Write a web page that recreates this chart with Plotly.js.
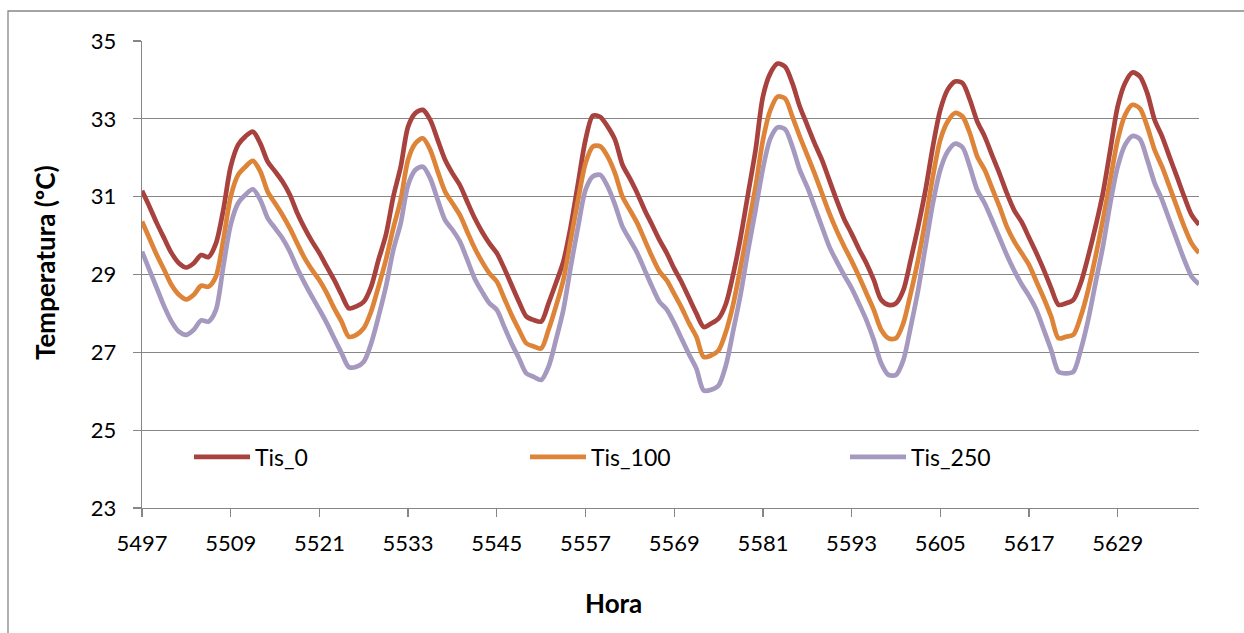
<!DOCTYPE html>
<html>
<head>
<meta charset="utf-8">
<script src="https://cdn.plot.ly/plotly-3.0.1.min.js"></script>
<style>html,body{margin:0;padding:0;background:#fff;}#chart{width:1244px;height:633px;}</style>
</head>
<body>
<div id="chart"></div>
<script>
// Hours (categories) 5497 .. 5640
const startHour = 5497;
const seriesNames = ["Tis_0", "Tis_100", "Tis_250"];
const xTickLabels = [5497, 5509, 5521, 5533, 5545, 5557, 5569, 5581, 5593, 5605, 5617, 5629];
const yTickLabels = [23, 25, 27, 29, 31, 33, 35];

const tis0 = [
31.15,30.75,30.32,29.93,29.55,29.29,29.18,29.29,29.50,29.45,29.80,30.66,31.77,32.33,32.55,32.67,32.37,31.90,31.65,31.39,31.05,30.58,30.19,29.85,
29.55,29.20,28.86,28.48,28.13,28.18,28.30,28.69,29.38,30.02,31.00,31.77,32.80,33.15,33.23,32.97,32.46,31.95,31.60,31.30,30.87,30.45,30.10,29.80,
29.55,29.16,28.73,28.30,27.92,27.83,27.79,28.26,28.78,29.33,30.23,31.35,32.46,33.08,33.05,32.80,32.46,31.82,31.47,31.09,30.66,30.28,29.89,29.55,
29.15,28.80,28.40,28.00,27.65,27.74,27.87,28.25,29.02,29.97,31.08,32.19,33.57,34.17,34.42,34.34,33.91,33.31,32.84,32.37,31.94,31.42,30.90,30.42,
30.05,29.65,29.29,28.86,28.35,28.22,28.26,28.60,29.38,30.23,31.17,32.29,33.23,33.75,33.96,33.92,33.49,32.93,32.55,32.07,31.60,31.09,30.65,30.35,
29.95,29.55,29.12,28.65,28.22,28.26,28.35,28.78,29.46,30.23,31.09,32.20,33.32,33.92,34.19,34.09,33.66,32.97,32.55,32.03,31.52,31.00,30.53,30.28
];
const tis100 = [
30.36,29.93,29.50,29.12,28.73,28.48,28.36,28.48,28.71,28.69,28.95,29.89,31.00,31.56,31.77,31.92,31.65,31.13,30.83,30.53,30.19,29.80,29.42,29.12,
28.85,28.52,28.13,27.79,27.40,27.45,27.62,28.05,28.69,29.38,30.19,30.92,31.95,32.37,32.50,32.20,31.65,31.13,30.83,30.53,30.10,29.68,29.33,29.03,
28.82,28.39,27.96,27.58,27.23,27.15,27.10,27.58,28.18,28.86,29.89,30.92,31.86,32.29,32.29,32.03,31.60,31.00,30.66,30.32,29.89,29.46,29.08,28.85,
28.50,28.15,27.75,27.40,26.88,26.92,27.05,27.53,28.25,29.20,30.22,31.25,32.45,33.22,33.57,33.52,33.05,32.54,32.07,31.59,31.08,30.57,30.12,29.72,
29.35,28.95,28.52,28.09,27.58,27.36,27.36,27.75,28.52,29.38,30.40,31.52,32.46,32.93,33.15,33.06,32.63,32.03,31.69,31.22,30.75,30.23,29.85,29.55,
29.25,28.82,28.39,27.92,27.36,27.40,27.45,27.92,28.60,29.46,30.40,31.43,32.46,33.10,33.36,33.27,32.80,32.20,31.77,31.26,30.74,30.23,29.80,29.55
];
const tis250 = [
29.59,29.12,28.65,28.18,27.79,27.53,27.45,27.58,27.82,27.79,28.09,29.21,30.28,30.83,31.05,31.19,30.92,30.45,30.19,29.93,29.59,29.16,28.78,28.43,
28.10,27.75,27.36,26.98,26.62,26.63,26.76,27.23,27.92,28.69,29.63,30.32,31.30,31.69,31.77,31.47,30.92,30.40,30.15,29.85,29.38,28.90,28.56,28.26,
28.09,27.66,27.23,26.85,26.46,26.37,26.29,26.63,27.32,28.09,29.20,30.23,31.17,31.52,31.56,31.26,30.79,30.23,29.89,29.55,29.12,28.69,28.30,28.10,
27.75,27.35,26.95,26.58,26.02,26.04,26.15,26.67,27.57,28.51,29.62,30.65,31.72,32.49,32.78,32.73,32.28,31.68,31.25,30.74,30.22,29.71,29.33,28.98,
28.65,28.25,27.83,27.32,26.72,26.42,26.42,26.80,27.66,28.60,29.72,30.83,31.69,32.16,32.36,32.27,31.77,31.17,30.83,30.40,29.95,29.50,29.10,28.75,
28.45,28.09,27.58,27.06,26.50,26.46,26.50,27.06,27.83,28.78,29.72,30.83,31.77,32.33,32.56,32.48,31.95,31.35,30.92,30.40,29.89,29.38,28.95,28.75
];

const hours = tis0.map((_, i) => startHour + i);
const colors = ["#A8423F", "#DD8438", "#A699BF"];
const values = [tis0, tis100, tis250];
const legendIds = ["legend", "legend2", "legend3"];

const FONT = "Lato, 'Open Sans', 'DejaVu Sans', sans-serif";
const GRID = "#868686";

const traces = values.map((v, k) => ({
  x: hours, y: v, type: "scatter", mode: "lines", name: seriesNames[k],
  line: {color: colors[k], width: 4.7, shape: "spline", smoothing: 0.8},
  legend: legendIds[k], hoverinfo: "x+y+name"
}));

// plot area: left 142, right 1199, top 41, bottom 508
const L = 142, R = 1199, T = 41, B = 508, W = 1244, H = 633;
const px = p => (p - L) / (R - L);
const py = p => (B - p) / (B - T);

function legendAt(xpix) {
  return {x: px(xpix), y: py(457), xanchor: "left", yanchor: "middle",
    orientation: "h", bgcolor: "rgba(0,0,0,0)", borderwidth: 0, itemwidth: 56,
    font: {family: FONT, size: 23, color: "#000"}, tracegroupgap: 0};
}

const layout = {
  width: W, height: H,
  margin: {l: L, r: W - R, t: T, b: H - B, pad: 0},
  paper_bgcolor: "#fff", plot_bgcolor: "#fff",
  font: {family: FONT, size: 22, color: "#000"},
  showlegend: true,
  legend: legendAt(189), legend2: legendAt(525), legend3: legendAt(845),
  xaxis: {
    type: "linear", range: [startHour, startHour + tis0.length - 1],
    tickmode: "array", tickvals: xTickLabels, ticktext: xTickLabels.map(String),
    ticks: "outside", ticklen: 8, tickwidth: 1.3, tickcolor: GRID,
    showline: true, linecolor: GRID, linewidth: 1.3,
    showgrid: false, zeroline: false, ticklabelstandoff: 7,
    tickfont: {family: FONT, size: 22, color: "#000"}
  },
  yaxis: {
    range: [23, 35], tickmode: "array", tickvals: yTickLabels, ticktext: yTickLabels.map(String),
    ticks: "outside", ticklen: 8, tickwidth: 1.3, tickcolor: GRID,
    showline: true, linecolor: GRID, linewidth: 1.3,
    showgrid: true, gridcolor: GRID, gridwidth: 1.3, zeroline: false,
    ticklabelstandoff: 12,
    tickfont: {family: FONT, size: 22, color: "#000"}
  },
  annotations: [
    {text: "Temperatura (ºC)", xref: "paper", yref: "paper", x: px(45), y: py(263),
     xanchor: "center", yanchor: "middle", textangle: -90, showarrow: false,
     font: {family: FONT, size: 26, color: "#000", weight: 700}},
    {text: "Hora", xref: "paper", yref: "paper", x: px(613), y: py(603),
     xanchor: "center", yanchor: "middle", showarrow: false,
     font: {family: FONT, size: 26, color: "#000", weight: 700}}
  ],
  shapes: [
    {type: "rect", xref: "paper", yref: "paper", x0: px(8), x1: px(1260), y0: py(650), y1: py(11),
     line: {color: GRID, width: 1.3}, fillcolor: "rgba(0,0,0,0)", layer: "below"}
  ]
};

Plotly.newPlot("chart", traces, layout, {displayModeBar: false, staticPlot: true});
</script>
</body>
</html>
